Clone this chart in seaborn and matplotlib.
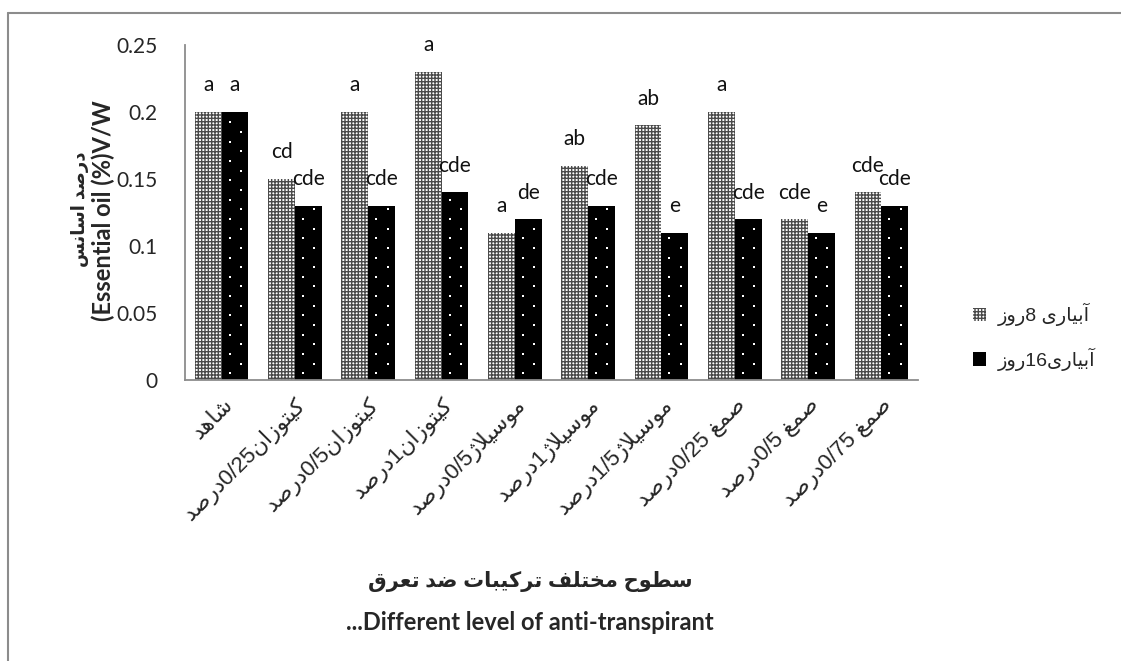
import re
import numpy as np
import pandas as pd
import matplotlib
matplotlib.use('Agg')
import matplotlib.pyplot as plt
import seaborn as sns
from matplotlib import font_manager, ft2font
from matplotlib.patches import Patch
from matplotlib.lines import Line2D

# data
treatments = ['شاهد', 'کیتوزان0/25درصد', 'کیتوزان0/5درصد', 'کیتوزان1درصد',
              'موسیلاژ0/5درصد', 'موسیلاژ1درصد', 'موسیلاژ1/5درصد',
              'صمغ 0/25درصد', 'صمغ 0/5درصد', 'صمغ 0/75درصد']
irrigation = ['آبیاری 8روز', 'آبیاری16روز']
oil_8 = [0.20, 0.15, 0.20, 0.23, 0.11, 0.16, 0.19, 0.20, 0.12, 0.14]
oil_16 = [0.20, 0.13, 0.13, 0.14, 0.12, 0.13, 0.11, 0.12, 0.11, 0.13]
letters_8 = ['a', 'cd', 'a', 'a', 'a', 'ab', 'ab', 'a', 'cde', 'cde']
letters_16 = ['a', 'cde', 'cde', 'cde', 'de', 'cde', 'e', 'cde', 'e', 'cde']
yticks = [0, 0.05, 0.1, 0.15, 0.2, 0.25]
ytick_labels = ['0', '0.05', '0.1', '0.15', '0.2', '0.25']

# --- minimal Arabic/Persian shaping (matplotlib has no text shaping) ---
cmap = ft2font.FT2Font(font_manager.findfont('DejaVu Sans')).get_charmap()


def pick(pref, alt):
    return pref if all(ord(c) in cmap for c in pref if c) else alt


FORMS = {
    'ا': ('\ufe8d', '\ufe8e', None, None),
    'آ': ('\ufe81', '\ufe82', None, None),
    'ب': ('\ufe8f', '\ufe90', '\ufe91', '\ufe92'),
    'ت': ('\ufe95', '\ufe96', '\ufe97', '\ufe98'),
    'ح': ('\ufea1', '\ufea2', '\ufea3', '\ufea4'),
    'خ': ('\ufea5', '\ufea6', '\ufea7', '\ufea8'),
    'د': ('\ufea9', '\ufeaa', None, None),
    'ر': ('\ufead', '\ufeae', None, None),
    'ز': ('\ufeaf', '\ufeb0', None, None),
    'س': ('\ufeb1', '\ufeb2', '\ufeb3', '\ufeb4'),
    'ش': ('\ufeb5', '\ufeb6', '\ufeb7', '\ufeb8'),
    'ص': ('\ufeb9', '\ufeba', '\ufebb', '\ufebc'),
    'ض': ('\ufebd', '\ufebe', '\ufebf', '\ufec0'),
    'ط': ('\ufec1', '\ufec2', '\ufec3', '\ufec4'),
    'ع': ('\ufec9', '\ufeca', '\ufecb', '\ufecc'),
    'غ': ('\ufecd', '\ufece', '\ufecf', '\ufed0'),
    'ف': ('\ufed1', '\ufed2', '\ufed3', '\ufed4'),
    'ق': ('\ufed5', '\ufed6', '\ufed7', '\ufed8'),
    'ل': ('\ufedd', '\ufede', '\ufedf', '\ufee0'),
    'م': ('\ufee1', '\ufee2', '\ufee3', '\ufee4'),
    'ن': ('\ufee5', '\ufee6', '\ufee7', '\ufee8'),
    'ه': ('\ufee9', '\ufeea', '\ufeeb', '\ufeec'),
    'و': ('\ufeed', '\ufeee', None, None),
    '\ufefb': ('\ufefb', '\ufefc', None, None),  # lam-alef
    'ژ': pick(('\ufb8a', '\ufb8b', None, None), ('\ufeaf', '\ufeb0', None, None)),
    'ک': pick(('\ufb8e', '\ufb8f', '\ufb90', '\ufb91'), ('\ufed9', '\ufeda', '\ufedb', '\ufedc')),
    'ی': pick(('\ufbfc', '\ufbfd', '\ufbfe', '\ufbff'), ('\ufeef', '\ufef0', '\ufef3', '\ufef4')),
}


def shape(s):
    s = s.replace('لا', '\ufefb')
    out = []
    for i, c in enumerate(s):
        if c not in FORMS:
            out.append(c)
            continue
        iso, fin, ini, med = FORMS[c]
        prev_j = i > 0 and s[i - 1] in FORMS and FORMS[s[i - 1]][2] is not None
        next_j = ini is not None and i + 1 < len(s) and s[i + 1] in FORMS
        if prev_j and next_j:
            out.append(med)
        elif prev_j:
            out.append(fin)
        elif next_j:
            out.append(ini)
        else:
            out.append(iso)
    return ''.join(out)


def rtl(text):
    runs = re.findall(r'[0-9/]+|[^0-9/]+', shape(text))
    return ''.join(r if r[0].isdigit() else r[::-1] for r in reversed(runs))


# --- long-form table for seaborn ---
df = pd.DataFrame({
    'treatment': treatments * 2,
    'irrigation': [irrigation[0]] * len(treatments) + [irrigation[1]] * len(treatments),
    'oil': oil_8 + oil_16,
})

mixed = ['Liberation Sans', 'DejaVu Sans']
num_font = 'Lato'

sns.set_style('white')
fig = plt.figure(figsize=(11.21, 6.61), dpi=100)
ax = fig.add_axes([185 / 1121, 1 - 380 / 661, 733 / 1121, 335 / 661])

sns.barplot(data=df, x='treatment', y='oil', hue='irrigation', order=treatments,
            hue_order=irrigation, palette=['white', 'black'], width=0.73,
            legend=False, ax=ax)

styles = [dict(facecolor='white', edgecolor='#4a4a4a', hatch='+++++'),
          dict(facecolor='black', edgecolor='black', hatch=None)]
for cont, st, lets in zip(ax.containers, styles, [letters_8, letters_16]):
    for bar in cont:
        bar.set_facecolor(st['facecolor'])
        bar.set_edgecolor(st['edgecolor'])
        bar.set_hatch(st['hatch'])
        bar.set_linewidth(0)
    ax.bar_label(cont, labels=lets, padding=12, fontsize=15, family=num_font,
                 color='#111')

# sparse white dot texture on the black bars
for bar in ax.containers[1]:
    x0, w, h = bar.get_x(), bar.get_width(), bar.get_height()
    ys = np.arange(0.005, h - 0.002, 0.0072)
    xs = [x0 + w * (0.3 if k % 2 == 0 else 0.72) for k in range(len(ys))]
    ax.scatter(xs, ys, s=2.5, color='white', marker='s', linewidths=0, zorder=3)

ax.set_xlim(-0.5, len(treatments) - 0.5)
ax.set_ylim(0, 0.25)
ax.set_yticks(yticks, labels=ytick_labels, family=num_font, fontsize=15)
ax.set_xticks(range(len(treatments)), labels=[rtl(t) for t in treatments],
              rotation=45, ha='right', rotation_mode='anchor', family=mixed,
              fontsize=16)
ax.tick_params(axis='both', length=0)
ax.tick_params(axis='y', pad=20)
ax.tick_params(axis='x', pad=10)
ax.set_xlabel('')
ax.set_ylabel('')
for side in ['top', 'right']:
    ax.spines[side].set_visible(False)
for side in ['left', 'bottom']:
    ax.spines[side].set_color('#8c8c8c')
    ax.spines[side].set_linewidth(1.3)

# axis titles
fig.text(80 / 1121, 1 - 209 / 661, rtl('درصد اسانس'), rotation=90,
         ha='center', va='center', family=mixed, fontsize=13, fontweight='bold')
fig.text(103 / 1121, 1 - 211 / 661, '(Essential oil (%)V/W', rotation=90,
         ha='center', va='center', family=num_font, fontsize=17, fontweight='bold')
fig.text(530 / 1121, 1 - 582 / 661, rtl('سطوح مختلف ترکیبات ضد تعرق'),
         ha='center', va='center', family=mixed, fontsize=15, fontweight='bold')
fig.text(530 / 1121, 1 - 622 / 661, '...Different level of anti-transpirant',
         ha='center', va='center', family=num_font, fontsize=17, fontweight='bold')

# legend
handles = [Patch(facecolor='white', edgecolor='#4a4a4a', hatch='+++++', linewidth=0),
           Patch(facecolor='black', edgecolor='black', linewidth=0)]
fig.legend(handles, [rtl(l) for l in irrigation], loc='center left',
           bbox_to_anchor=(955 / 1121, 1 - 337 / 661), frameon=False,
           prop={'family': mixed, 'size': 14}, handlelength=0.7,
           handleheight=0.7, handletextpad=0.6, labelspacing=1.1)

# outer chart frame (only top and left are inside the picture)
fig.add_artist(Line2D([8 / 1121, 1], [1 - 13 / 661] * 2, transform=fig.transFigure,
                      color='#8c8c8c', lw=1.5))
fig.add_artist(Line2D([8 / 1121] * 2, [0, 1 - 13 / 661], transform=fig.transFigure,
                      color='#8c8c8c', lw=1.5))

fig.savefig('out.png', dpi=100, facecolor='white')
